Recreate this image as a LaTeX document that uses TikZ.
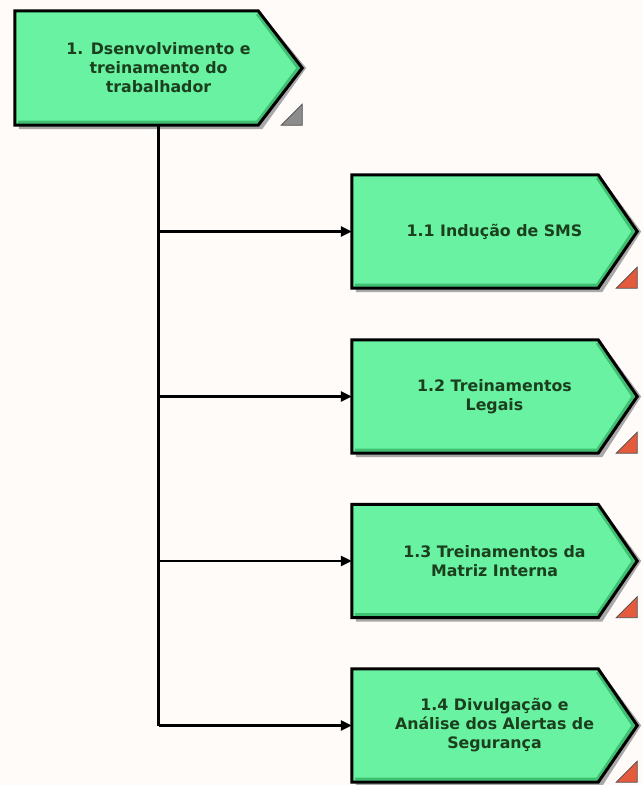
\documentclass[tikz,border=0pt]{standalone}
\usepackage{fontspec}
\newfontfamily\boxfont{DejaVu Sans}[BoldFont={DejaVu Sans Bold}]
\usetikzlibrary{calc,arrows.meta}

\definecolor{pagebg}{HTML}{FFFBF8}
\definecolor{stepfill}{HTML}{68F2A2}
\definecolor{stepbevel}{HTML}{3FBF72}
\definecolor{steptext}{HTML}{1C3F1E}
\definecolor{stepshadow}{HTML}{A8A8A8}
\definecolor{markgray}{HTML}{8C8C8C}
\definecolor{markred}{HTML}{E45A3C}

\tikzset{
  stepnode/.style={draw=none, inner sep=0pt, align=center,
    font=\boxfont\bfseries\fontsize{15.8}{19}\selectfont, text=steptext},
  link/.style={line width=2.6pt, draw=black},
  linkarrow/.style={link, -{Triangle[length=11pt,width=10pt]}},
}

% step outline: name, tip length, corner mark colour
\newcommand{\stepshape}[3]{%
  \fill[stepshadow] ($(#1.north west)+(4,4)$) -- ($(#1.north east)+(-#2+4,4)$)
    -- ($(#1.east)+(4,0)$) -- ($(#1.south east)+(-#2+4,4)$)
    -- ($(#1.south west)+(4,4)$) -- cycle;
  \fill[stepfill] (#1.north west) -- ($(#1.north east)+(-#2,0)$)
    -- (#1.east) -- ($(#1.south east)+(-#2,0)$) -- (#1.south west) -- cycle;
  \draw[stepbevel, line width=3pt] ($(#1.north east)+(-#2-1,3)$)
    -- ($(#1.east)+(-4,0)$) -- ($(#1.south east)+(-#2-1,-3)$) -- ($(#1.south west)+(3,-3)$);
  \draw[black, line width=3pt, line join=miter] (#1.north west) -- ($(#1.north east)+(-#2,0)$)
    -- (#1.east) -- ($(#1.south east)+(-#2,0)$) -- (#1.south west) -- cycle;
  \filldraw[fill=#3, draw=black!70, line width=0.6pt]
    ($(#1.south east)+(-21,0)$) -- ($(#1.south east)+(0,-21)$) -- (#1.south east) -- cycle;
}

\begin{document}
\begin{tikzpicture}[x=1pt,y=-1pt]
  \useasboundingbox (0,0) rectangle (643,785);
  \fill[pagebg] (0,0) rectangle (643,785);

  % placeholders that fix each step's extent (full width including the tip)
  \node[stepnode, minimum width=287, minimum height=114] (top) at (158.5,68) {};
  \node[stepnode, minimum width=285, minimum height=113] (s1) at (494.5,231.5) {};
  \node[stepnode, minimum width=285, minimum height=113] (s2) at (494.5,396.5) {};
  \node[stepnode, minimum width=285, minimum height=113] (s3) at (494.5,561) {};
  \node[stepnode, minimum width=285, minimum height=113] (s4) at (494.5,725.5) {};

  \stepshape{top}{44}{markgray}
  \stepshape{s1}{39}{markred}
  \stepshape{s2}{39}{markred}
  \stepshape{s3}{39}{markred}
  \stepshape{s4}{39}{markred}

  % labels on top of the fills
  \node[stepnode] (topl) at (top) {1. Dsenvolvimento e\\treinamento do\\trabalhador};
  \node[stepnode] (s1l) at (s1) {1.1 Indução de SMS};
  \node[stepnode] (s2l) at (s2) {1.2 Treinamentos\\Legais};
  \node[stepnode] (s3l) at (s3) {1.3 Treinamentos da\\Matriz Interna};
  \node[stepnode] (s4l) at (s4) {1.4 Divulgação e\\Análise dos Alertas de\\Segurança};

  % tree connectors
  \draw[link] ($(top.south)+(0,1)$) -- (top.south |- s4.west);
  \foreach \s in {s1,s2,s3,s4}
    \draw[linkarrow] (top.south |- \s.west) -- (\s.west);
\end{tikzpicture}
\end{document}
